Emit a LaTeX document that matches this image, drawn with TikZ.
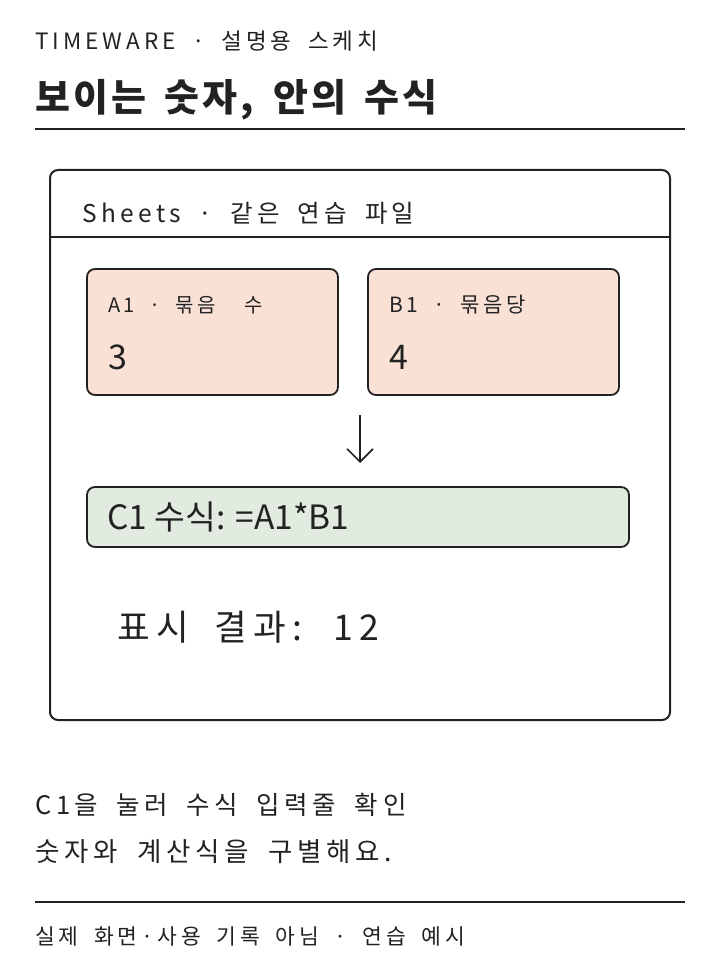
\documentclass[tikz,border=0pt]{standalone}
\usepackage{fontspec}
\setmainfont{Noto Sans CJK KR}
\newfontfamily\handfont[LetterSpace=18,WordSpace=1.8]{Noto Sans CJK KR}
\newfontfamily\titlefont[LetterSpace=8,WordSpace=1.6]{Noto Sans CJK KR}
\newfontfamily\plainfont{Noto Sans CJK KR}
\usetikzlibrary{arrows.meta,positioning}
\definecolor{peach}{HTML}{F9E1D6}
\definecolor{sage}{HTML}{E1EBDF}
\definecolor{ink}{HTML}{222222}

\tikzset{
  sketchline/.style={draw=ink, line width=1.6pt},
  cellbox/.style={draw=ink, line width=1.8pt, rounded corners=8pt},
  txt/.style={anchor=base west, inner sep=0pt, text=ink},
}

\begin{document}
\begin{tikzpicture}[x=1pt,y=-1pt]
            \useasboundingbox (0,0) rectangle (720,960);
            % Header
            \node[txt, font=\handfont\fontsize{22.5}{26}\selectfont] (kicker) at (35,50) {TIMEWARE · 설명용 스케치};
            \node[txt, font=\titlefont\bfseries\fontsize{38}{42}\selectfont] (title) at (35,112) {보이는 숫자, 안의 수식};
            \coordinate (ruleL) at (35,129); \coordinate (ruleR) at (685,129);
            \draw[sketchline] (ruleL) -- (ruleR);
            % Sheet frame
            \draw[cellbox, line width=2pt] (50,170) rectangle (670,720);
            \coordinate (headL) at (50,237); \coordinate (headR) at (670,237);
            \draw[sketchline] (headL) -- (headR);
            \node[txt, font=\handfont\fontsize{24.5}{28}\selectfont] (sheets) at (82,222) {Sheets · 같은 연습 파일};
            % Cells A1 and B1
            \draw[cellbox, fill=peach] (87,269) rectangle (338,395);
            \node[txt, font=\handfont\fontsize{20}{24}\selectfont] (aname) at (108,312) {A1 · 묶음 \ 수};
            \node[txt, font=\handfont\fontsize{34}{38}\selectfont] (aval) at (108,369) {3};
            \draw[cellbox, fill=peach] (368,269) rectangle (619,395);
            \node[txt, font=\handfont\fontsize{21}{24}\selectfont] (bname) at (389,312) {B1 · 묶음당};
            \node[txt, font=\handfont\fontsize{34}{38}\selectfont] (bval) at (389,369) {4};
            % Arrow to C1
            \coordinate (arrowtop) at (360,415); \coordinate (arrowtip) at (360,463);
            \draw[ink, line width=1.6pt, -{Straight Barb[length=13pt,width=26pt,line width=1.6pt]}] (arrowtop) -- (arrowtip);
            % Cell C1
            \draw[cellbox, fill=sage] (87,487) rectangle (629,547);
            \node[txt, font=\plainfont\fontsize{33.5}{37}\selectfont] (formula) at (107,529) {C1 수식: =A1*B1};
            \node[txt, font=\handfont\fontsize{35.5}{39}\selectfont] (result) at (117,640) {표시 결과: 12};
            % Notes
            \node[txt, font=\handfont\fontsize{25.5}{29}\selectfont] (note1) at (35,814) {C1을 눌러 수식 입력줄 확인};
            \node[txt, font=\handfont\fontsize{26.5}{30}\selectfont] (note2) at (35,861) {숫자와 계산식을 구별해요.};
            \coordinate (footL) at (35,902); \coordinate (footR) at (685,902);
            \draw[sketchline] (footL) -- (footR);
            \node[txt, font=\handfont\fontsize{21.5}{25}\selectfont] (footer) at (35,944) {실제 화면·사용 기록 아님 · 연습 예시};
        \end{tikzpicture}
\end{document}
